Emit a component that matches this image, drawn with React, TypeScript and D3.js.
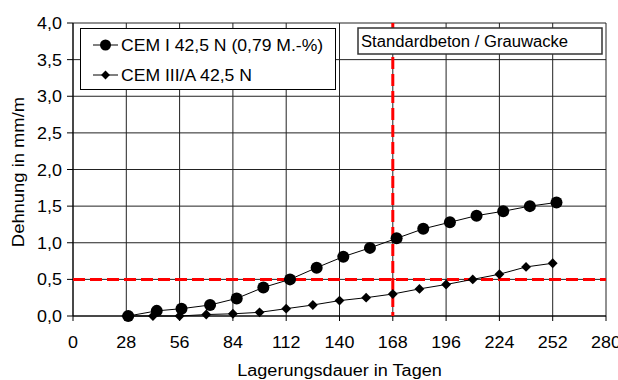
import React from "react";
import * as d3 from "d3";

// CEM I 42,5 N (0,79 M.-%) – circles
const daysCemI = [29, 44, 57, 72, 86, 100, 114, 128, 142, 156, 170, 184, 198, 212, 226, 240, 254];
const strainCemI = [0.0, 0.07, 0.1, 0.15, 0.24, 0.39, 0.5, 0.66, 0.81, 0.93, 1.06, 1.19, 1.28, 1.37, 1.43, 1.5, 1.55];
// CEM III/A 42,5 N – diamonds
const daysCemIII = [28, 42, 56, 70, 84, 98, 112, 126, 140, 154, 168, 182, 196, 210, 224, 238, 252];
const strainCemIII = [0.0, 0.0, 0.0, 0.02, 0.03, 0.05, 0.1, 0.15, 0.21, 0.25, 0.3, 0.37, 0.43, 0.5, 0.57, 0.67, 0.72];

const xTicks = [0, 28, 56, 84, 112, 140, 168, 196, 224, 252, 280];
const yTicks = [0, 0.5, 1, 1.5, 2, 2.5, 3, 3.5, 4];
const limitStrain = 0.5;
const limitDay = 168;

const W = 618;
const H = 380;
const margin = { top: 23, right: 12, bottom: 64, left: 73 };
const font = "'Liberation Sans', Arial, sans-serif";

// text in the original is a little wider than tall, so stretch it horizontally
const T = ({ x, y, anchor = "start", rotate = 0, sx = 1.12, children }: any) => (
  <text
    transform={`translate(${x},${y}) rotate(${rotate}) scale(${sx},1)`}
    textAnchor={anchor}
    fontSize={16}
  >
    {children}
  </text>
);

const App = () => {
  const x = d3.scaleLinear().domain([0, 280]).range([margin.left, W - margin.right]);
  const y = d3.scaleLinear().domain([0, 4]).range([H - margin.bottom, margin.top]);
  const fmt = (v: number) => v.toFixed(1).replace(".", ",");

  const line = d3
    .line<[number, number]>()
    .x((d) => x(d[0]))
    .y((d) => y(d[1]));

  const cemI = daysCemI.map((d, i) => [d, strainCemI[i]] as [number, number]);
  const cemIII = daysCemIII.map((d, i) => [d, strainCemIII[i]] as [number, number]);
  const diamond = d3.symbol().type(d3.symbolDiamond2).size(62)();

  return (
    <svg
      width={W}
      height={H}
      style={{ position: "absolute", left: 0, top: 0, background: "#fff" }}
      fontFamily={font}
    >
      {/* grid */}
      {xTicks.map((t) => (
        <line key={"gx" + t} x1={x(t)} x2={x(t)} y1={y(4)} y2={y(0)} stroke="#222" strokeWidth={1} />
      ))}
      {yTicks.map((t) => (
        <line key={"gy" + t} x1={x(0)} x2={x(280)} y1={y(t)} y2={y(t)} stroke="#222" strokeWidth={1} />
      ))}
      {/* axes */}
      <line x1={x(0)} x2={x(0)} y1={y(4)} y2={y(0)} stroke="#000" />
      <line x1={x(0)} x2={x(280)} y1={y(0)} y2={y(0)} stroke="#000" />
      {yTicks.map((t) => (
        <g key={"ty" + t}>
          <line x1={x(0) - 6} x2={x(0)} y1={y(t)} y2={y(t)} stroke="#000" />
          <T x={x(0) - 11} y={y(t) + 6} anchor="end">
            {fmt(t)}
          </T>
        </g>
      ))}
      {xTicks.map((t) => (
        <g key={"tx" + t}>
          <line x1={x(t)} x2={x(t)} y1={y(0)} y2={y(0) + 5} stroke="#000" />
          <T x={x(t)} y={y(0) + 32} anchor="middle">
            {t}
          </T>
        </g>
      ))}
      <T x={(x(0) + x(280)) / 2} y={H - 4} anchor="middle" sx={1.13}>
        Lagerungsdauer in Tagen
      </T>
      <T x={24} y={172} anchor="middle" rotate={-90} sx={1.15}>
        Dehnung in mm/m
      </T>

      {/* limit lines */}
      <line
        x1={x(0)}
        x2={x(280)}
        y1={y(limitStrain)}
        y2={y(limitStrain)}
        stroke="#ff0000"
        strokeWidth={3}
        strokeDasharray="12,5"
      />
      <line
        x1={x(limitDay)}
        x2={x(limitDay)}
        y1={y(4)}
        y2={y(0)}
        stroke="#ff0000"
        strokeWidth={3}
        strokeDasharray="12,5"
      />

      {/* series */}
      <path d={line(cemIII) ?? ""} fill="none" stroke="#000" strokeWidth={1} />
      {cemIII.map((d, i) => (
        <path key={"d" + i} d={diamond ?? ""} transform={`translate(${x(d[0])},${y(d[1])})`} fill="#000" />
      ))}
      <path d={line(cemI) ?? ""} fill="none" stroke="#000" strokeWidth={1} />
      {cemI.map((d, i) => (
        <circle key={"c" + i} cx={x(d[0])} cy={y(d[1])} r={6} fill="#000" />
      ))}

      {/* legend */}
      <rect x={80.5} y={28.5} width={255} height={61} fill="#fff" stroke="#000" />
      <line x1={93} x2={118} y1={45} y2={45} stroke="#000" />
      <circle cx={105.5} cy={45} r={5.5} fill="#000" />
      <T x={121} y={51} sx={1.1}>
        CEM I 42,5 N (0,79 M.-%)
      </T>
      <line x1={93} x2={118} y1={75} y2={75} stroke="#000" />
      <path d={diamond ?? ""} transform="translate(105.5,75) scale(0.9)" fill="#000" />
      <T x={121} y={81} sx={1.1}>
        CEM III/A 42,5 N
      </T>

      {/* annotation box */}
      <rect x={358} y={28} width={244} height={26} fill="#fff" stroke="#333" strokeWidth={1.5} />
      <T x={361} y={47} sx={1.04}>
        Standardbeton / Grauwacke
      </T>
    </svg>
  );
};

export default App;
